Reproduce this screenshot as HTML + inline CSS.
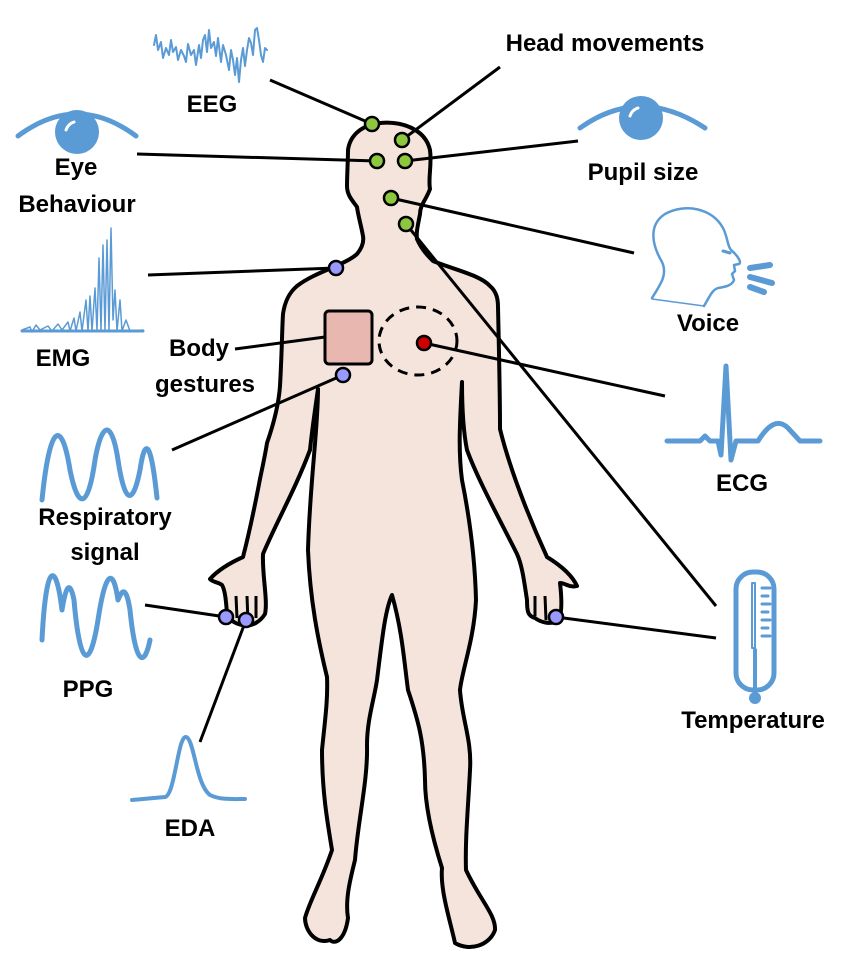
<!DOCTYPE html>
<html><head><meta charset="utf-8"><style>
html,body{margin:0;padding:0;background:#fff;}
svg{display:block}
text{font-family:"Liberation Sans",sans-serif;font-weight:bold;font-size:24px;fill:#000;text-anchor:middle}
</style></head><body>
<svg width="850" height="957" viewBox="0 0 850 957" xmlns="http://www.w3.org/2000/svg">
<!-- body -->
<path d="M380,123 C400,121 425,128 430,150 C432,165 428,178 430,189 C426,200 420,205 420,214 C418,225 416,232 417,239 C422,250 428,256 433,261 C455,270 480,275 490,286 C497,292 498,300 498,307 C499,350 500,400 500,429 C510,470 530,520 547,557 C560,565 572,575 577,586 C570,588 565,583 560,583 C562,600 562,615 558,621 C550,625 540,622 535,618 C528,616 527,612 527,600 C524,580 522,565 517,554 C500,520 478,480 467,450 C463,430 462,400 462,382 C460,420 458,450 462,480 C470,520 475,560 476,600 C474,640 462,670 460,690 C462,720 472,740 470,770 C468,810 465,840 466,870 C480,900 496,915 495,930 C490,945 470,952 455,943 C450,920 440,890 442,868 C430,830 425,800 425,780 C424,740 418,720 408,690 C404,660 402,630 392,595 C385,610 382,640 377,680 C374,700 367,720 367,745 C368,780 358,820 355,860 C350,880 345,900 348,918 C345,940 335,945 330,940 C315,945 305,930 305,918 C310,900 322,880 332,850 C327,820 322,790 322,750 C325,720 328,700 327,677 C318,640 310,600 308,550 C310,480 318,430 318,389 C315,410 312,430 310,450 C295,490 275,525 263,554 C262,575 268,600 265,614 C260,622 252,626 247,625 C240,626 230,622 227,614 C226,600 225,590 222,585 C218,582 212,582 210,579 C218,570 232,562 243,557 C250,530 256,500 260,479 C264,460 266,450 267,443 C275,420 279,400 280,386 C282,350 282,330 283,314 C285,300 290,292 297,286 C315,272 345,265 357,254 C362,248 364,242 363,236 C361,225 358,215 357,207 C352,200 347,195 347,186 C347,175 348,160 348,150 C350,135 362,125 380,123 Z" fill="#f4e4dc" stroke="#000" stroke-width="4" stroke-linejoin="round"/>
<!-- finger hints -->
<path d="M236,596 L237,618 M247,596 L248,622 M256,596 L256,618 M535,596 L535,616 M545,596 L546,620" stroke="#000" stroke-width="3" fill="none"/>
<!-- chest items -->
<rect x="325" y="311" width="47" height="53" rx="4" fill="#e8b7b0" stroke="#000" stroke-width="3"/>
<ellipse cx="418" cy="341" rx="39" ry="34" fill="none" stroke="#000" stroke-width="3" stroke-dasharray="10,7"/>
<!-- connectors -->
<g stroke="#000" stroke-width="3" fill="none">
<line x1="270" y1="80" x2="372" y2="124"/>
<line x1="500" y1="67" x2="402" y2="140"/>
<line x1="137" y1="154" x2="377" y2="161"/>
<line x1="578" y1="141" x2="405" y2="161"/>
<line x1="634" y1="253" x2="391" y2="198"/>
<line x1="716" y1="606" x2="406" y2="224"/>
<line x1="148" y1="275" x2="336" y2="268"/>
<line x1="235" y1="349" x2="325" y2="337"/>
<line x1="172" y1="450" x2="343" y2="375"/>
<line x1="665" y1="396" x2="424" y2="343"/>
<line x1="145" y1="605" x2="226" y2="617"/>
<line x1="200" y1="742" x2="246" y2="620"/>
<line x1="716" y1="638" x2="556" y2="617"/>
</g>
<!-- dots -->
<g stroke="#000" stroke-width="2.5">
<circle cx="372" cy="124" r="7" fill="#8dc63f"/>
<circle cx="402" cy="140" r="7" fill="#8dc63f"/>
<circle cx="377" cy="161" r="7" fill="#8dc63f"/>
<circle cx="405" cy="161" r="7" fill="#8dc63f"/>
<circle cx="391" cy="198" r="7" fill="#8dc63f"/>
<circle cx="406" cy="224" r="7" fill="#8dc63f"/>
<circle cx="336" cy="268" r="7" fill="#9999ff"/>
<circle cx="343" cy="375" r="7" fill="#9999ff"/>
<circle cx="226" cy="617" r="7" fill="#9999ff"/>
<circle cx="246" cy="620" r="7" fill="#9999ff"/>
<circle cx="556" cy="617" r="7" fill="#9999ff"/>
<circle cx="424" cy="343" r="7" fill="#cc0000"/>
</g>
<!-- icons -->
<g stroke="#5b9bd5" fill="none" stroke-linecap="round" stroke-linejoin="round">
<polyline stroke-width="2" points="154,45 156,35 158,50 161,42 163,58 166,48 169,55 171,40 173,52 176,47 178,60 181,50 184,56 186,62 188,44 191,55 194,50 196,65 199,45 201,58 203,40 205,35 207,52 209,30 211,48 214,42 216,56 218,38 221,62 223,45 226,55 229,70 231,50 233,60 235,75 237,58 239,82 241,60 243,48 245,66 247,50 249,38 251,43 253,55 255,30 257,28 259,40 261,55 263,62 265,48 267,50"/>
<path stroke-width="1.5" d="M22,330 L30,327 L32,332 L36,325 L40,330 L48,326 L52,331 L58,324 L62,330 L68,322 L70,331 L74,318 L76,331 L80,312 L82,331 L86,300 L88,331 L90,296 L92,331 L95,288 L97,331 L99,258 L101,331 L103,245 L105,331 L107,240 L109,331 L111,228 L113,320 L115,290 L117,331 L120,300 L122,331 L126,320 L130,331 L143,330"/>
<path stroke-width="3" d="M22,331 L143,331"/>
<path stroke-width="5" d="M18,136 Q77,92 136,136"/>
<path stroke-width="5" d="M580,128 Q640,85 705,128"/>
<path stroke-width="2.5" d="M652,298 C660,285 668,275 662,262 C652,245 648,225 665,214 C685,203 712,208 723,228 C728,238 727,245 731,250 C737,255 742,262 739,264 L734,265 L735,271 L732,274 L734,280 C732,286 724,287 718,288 C712,290 710,296 704,306"/>
<path stroke-width="1.5" d="M652,299 L704,306"/>
<path stroke-width="3" d="M723,251 L730,253"/>
<path stroke-width="6" d="M750,268 L770,265 M750,277 L772,283 M750,287 L764,292"/>
<path stroke-width="5" d="M667,441 L700,441 L705,436 L710,441 L718,441 L721,455 L726,366 L731,460 L736,441 L758,441 C768,425 778,418 788,428 L800,441 L820,441"/>
<path stroke-width="5" d="M42,500 C50,420 62,420 70,470 C78,510 88,510 95,460 C102,420 112,420 118,460 C124,500 132,510 140,470 C146,430 152,450 157,498"/>
<path stroke-width="5" d="M42,640 C46,560 56,560 62,610 C66,585 70,580 74,600 C80,670 90,670 98,620 C104,580 112,560 118,600 C122,590 126,585 130,610 C136,670 145,665 150,640"/>
<path stroke-width="4" d="M132,800 L165,797 C175,795 178,735 186,737 C194,738 196,785 210,795 C220,800 232,799 245,799"/>
<rect x="736" y="572" width="38" height="118" rx="17" stroke-width="5"/>
<path stroke-width="2" d="M752,583 L752,648 L755,648 L755,583 Z"/>
<path stroke-width="3" d="M762,588 L770,588 M762,596 L768,596 M762,604 L770,604 M762,612 L768,612 M762,620 L770,620 M762,628 L768,628 M762,636 L770,636"/>
<path stroke-width="4" d="M755,650 L755,700"/>
</g>
<g fill="#5b9bd5">
<circle cx="77" cy="132" r="22"/>
<circle cx="641" cy="118" r="22"/>
<circle cx="755" cy="698" r="6"/>
</g>
<path d="M66,130 Q68,124 74,122" stroke="#fff" stroke-width="3" fill="none" stroke-linecap="round"/>
<path d="M630,116 Q632,110 638,108" stroke="#fff" stroke-width="3" fill="none" stroke-linecap="round"/>
<!-- labels -->
<text x="212" y="112">EEG</text>
<text x="605" y="51">Head movements</text>
<text x="76" y="175">Eye</text>
<text x="77" y="212">Behaviour</text>
<text x="643" y="180">Pupil size</text>
<text x="708" y="331">Voice</text>
<text x="63" y="366">EMG</text>
<text x="199" y="356">Body</text>
<text x="205" y="392">gestures</text>
<text x="742" y="491">ECG</text>
<text x="105" y="525">Respiratory</text>
<text x="105" y="560">signal</text>
<text x="88" y="697">PPG</text>
<text x="190" y="836">EDA</text>
<text x="753" y="728">Temperature</text>
</svg>
</body></html>
